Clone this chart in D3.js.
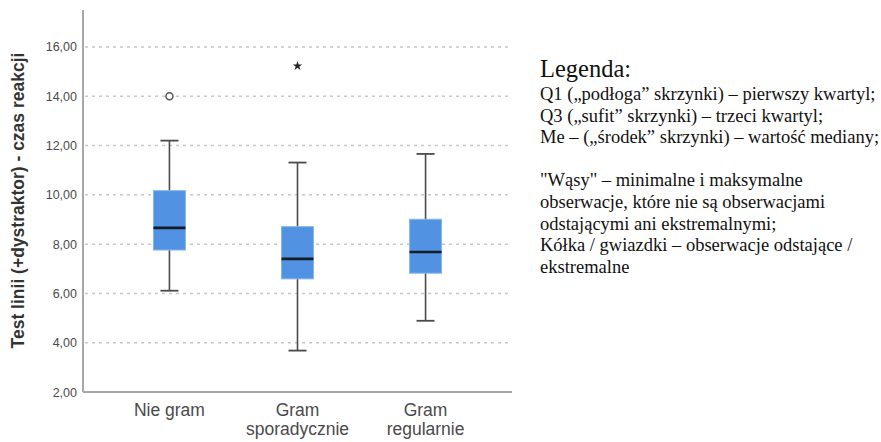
<!DOCTYPE html>
<html>
<head>
<meta charset="utf-8">
<script src="https://cdn.jsdelivr.net/npm/d3@7"></script>
<style>
  body { margin: 0; background: #fff; }
  svg { display: block; }
</style>
</head>
<body>
<svg id="chart" width="881" height="442"></svg>
<script>
// Categories on the x axis (two-line labels).
const groups = ["Nie gram", "Gram sporadycznie", "Gram regularnie"];
const groupLines = [["Nie gram"], ["Gram", "sporadycznie"], ["Gram", "regularnie"]];

// Box plot statistics.
const whiskerLow = [6.11, 3.68, 4.89];
const q1 = [7.76, 6.59, 6.82];
const median = [8.66, 7.40, 7.68];
const q3 = [10.17, 8.71, 9.01];
const whiskerHigh = [12.2, 11.31, 11.66];

// Outliers (circle) and extremes (star).
const outliers = [{group: "Nie gram", value: 14.0}];
const extremes = [{group: "Gram sporadycznie", value: 15.23}];

const yTicks = [2, 4, 6, 8, 10, 12, 14, 16];

const legendLines = [
  "Q1 (\u201epodłoga\u201d skrzynki) \u2013 pierwszy kwartyl;",
  "Q3 (\u201esufit\u201d skrzynki) \u2013 trzeci kwartyl;",
  "Me \u2013 (\u201eśrodek\u201d skrzynki) \u2013 wartość mediany;",
  "",
  "\"Wąsy\" \u2013 minimalne i maksymalne",
  "obserwacje, które nie są obserwacjami",
  "odstającymi ani ekstremalnymi;",
  "Kółka / gwiazdki \u2013 obserwacje odstające /",
  "ekstremalne"
];

const svg = d3.select("#chart");

// Plot area
const plotL = 83, plotR = 512, plotT = 10, plotB = 392;

const y = d3.scaleLinear().domain([2, 17.5]).range([plotB, plotT]);
const x = d3.scaleBand().domain(groups).range([plotL, plotR])
  .paddingInner(0).paddingOuter(0.175);

const boxW = 32, capW = 18;

// Dotted grid lines
svg.append("g")
  .selectAll("line")
  .data(yTicks.filter(d => d > 2))
  .join("line")
    .attr("x1", plotL + 2)
    .attr("x2", plotR - 2)
    .attr("y1", d => y(d))
    .attr("y2", d => y(d))
    .attr("stroke", "#c8c8c8")
    .attr("stroke-width", 1.5)
    .attr("stroke-dasharray", "3,4");

// Y axis
const yAxis = svg.append("g")
  .attr("transform", `translate(${plotL},0)`)
  .call(d3.axisLeft(y).tickValues(yTicks).tickSize(0).tickPadding(6)
    .tickFormat(d => d3.format(".2f")(d).replace(".", ",")));
yAxis.select(".domain").remove();
yAxis.selectAll("text")
  .attr("font-family", "Arial, 'Liberation Sans', sans-serif")
  .attr("font-size", 12.5)
  .attr("fill", "#4a4a4a");

// Axis lines
svg.append("line")
  .attr("x1", plotL).attr("x2", plotL)
  .attr("y1", plotT).attr("y2", plotB)
  .attr("stroke", "#a8a8a8").attr("stroke-width", 2);
svg.append("line")
  .attr("x1", plotL).attr("x2", plotR)
  .attr("y1", plotB).attr("y2", plotB)
  .attr("stroke", "#a8a8a8").attr("stroke-width", 2);

// Y axis title
svg.append("text")
  .attr("transform", `translate(24,${(45 + 356) / 2}) rotate(-90)`)
  .attr("text-anchor", "middle")
  .attr("font-family", "Arial, 'Liberation Sans', sans-serif")
  .attr("font-weight", "bold")
  .attr("font-size", 17.5)
  .attr("fill", "#333")
  .text("Test linii (+dystraktor) - czas reakcji");

// X labels
const xl = svg.append("g")
  .selectAll("text")
  .data(groups)
  .join("text")
    .attr("text-anchor", "middle")
    .attr("font-family", "Arial, 'Liberation Sans', sans-serif")
    .attr("font-size", 17.5)
    .attr("fill", "#4a4a4a")
    .attr("x", d => x(d) + x.bandwidth() / 2)
    .attr("y", 416);
xl.selectAll("tspan")
  .data((d, i) => groupLines[i].map(t => ({t, g: d})))
  .join("tspan")
    .attr("x", d => x(d.g) + x.bandwidth() / 2)
    .attr("dy", (d, i) => i === 0 ? 0 : 19)
    .text(d => d.t);

// Boxes
const boxes = svg.append("g")
  .selectAll("g")
  .data(groups)
  .join("g")
    .attr("transform", d => `translate(${x(d) + x.bandwidth() / 2},0)`);

// whisker lines
boxes.append("line")
  .attr("y1", (d, i) => y(whiskerLow[i]))
  .attr("y2", (d, i) => y(whiskerHigh[i]))
  .attr("stroke", "#4a4a4a").attr("stroke-width", 1.6);
boxes.append("line")
  .attr("x1", -capW / 2).attr("x2", capW / 2)
  .attr("y1", (d, i) => y(whiskerLow[i]))
  .attr("y2", (d, i) => y(whiskerLow[i]))
  .attr("stroke", "#4a4a4a").attr("stroke-width", 1.8);
boxes.append("line")
  .attr("x1", -capW / 2).attr("x2", capW / 2)
  .attr("y1", (d, i) => y(whiskerHigh[i]))
  .attr("y2", (d, i) => y(whiskerHigh[i]))
  .attr("stroke", "#4a4a4a").attr("stroke-width", 1.8);

// box
boxes.append("rect")
  .attr("x", -boxW / 2)
  .attr("width", boxW)
  .attr("y", (d, i) => y(q3[i]))
  .attr("height", (d, i) => y(q1[i]) - y(q3[i]))
  .attr("fill", "#5192e3")
  .attr("stroke", "#8ab6ee")
  .attr("stroke-width", 1);

// median
boxes.append("line")
  .attr("x1", -boxW / 2).attr("x2", boxW / 2)
  .attr("y1", (d, i) => y(median[i]))
  .attr("y2", (d, i) => y(median[i]))
  .attr("stroke", "#141c28").attr("stroke-width", 2.6);

// outliers
svg.append("g")
  .selectAll("circle")
  .data(outliers)
  .join("circle")
    .attr("cx", d => x(d.group) + x.bandwidth() / 2)
    .attr("cy", d => y(d.value))
    .attr("r", 3.5)
    .attr("fill", "#fff")
    .attr("stroke", "#555")
    .attr("stroke-width", 1.5);

// extremes
svg.append("g")
  .selectAll("path")
  .data(extremes)
  .join("path")
    .attr("transform", d => `translate(${x(d.group) + x.bandwidth() / 2},${y(d.value)})`)
    .attr("d", d3.symbol(d3.symbolStar, 28))
    .attr("fill", "#222");

// Legend text
const leg = svg.append("g")
  .attr("font-family", "'Liberation Serif', 'Times New Roman', serif")
  .attr("fill", "#111");
leg.append("text")
  .attr("x", 540).attr("y", 77)
  .attr("font-size", 24.5)
  .text("Legenda:");
leg.selectAll("text.line")
  .data(legendLines)
  .join("text")
    .attr("class", "line")
    .attr("x", 540)
    .attr("y", (d, i) => 100 + i * 21.6)
    .attr("font-size", 18.5)
    .text(d => d);
</script>
</body>
</html>
